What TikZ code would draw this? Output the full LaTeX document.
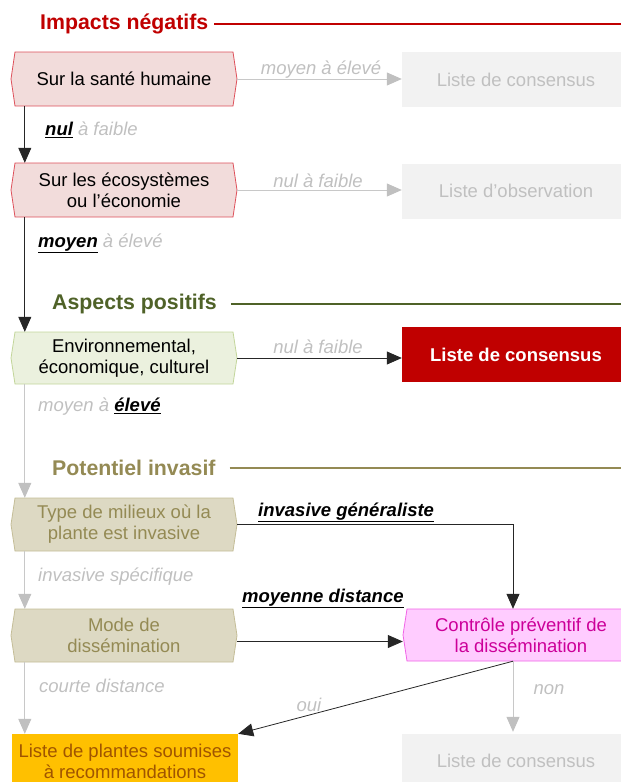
\documentclass[tikz,border=0pt]{standalone}
\usepackage{fontspec}
\setmainfont{Liberation Sans}
\usetikzlibrary{arrows.meta}
\definecolor{negred}{RGB}{192,0,0}
\definecolor{pinkfill}{RGB}{242,220,219}
\definecolor{pinkdraw}{RGB}{222,80,90}
\definecolor{greentitle}{RGB}{79,98,40}
\definecolor{greenfill}{RGB}{235,241,222}
\definecolor{greendraw}{RGB}{195,214,155}
\definecolor{olivetitle}{RGB}{148,138,84}
\definecolor{olivefill}{RGB}{221,217,195}
\definecolor{olivedraw}{RGB}{196,189,151}
\definecolor{magfill}{RGB}{255,204,255}
\definecolor{magdraw}{RGB}{240,100,230}
\definecolor{magtext}{RGB}{204,0,153}
\definecolor{orangefill}{RGB}{255,192,0}
\definecolor{orangetext}{RGB}{160,85,0}
\definecolor{lightgray}{RGB}{192,192,192}
\definecolor{linegray}{RGB}{200,200,200}
\definecolor{boxgray}{RGB}{242,242,242}
\newcommand\hexnode[7]{%
  \path[#6] (#2+4,#3) -- (#4-4,#3) -- (#4,{(#3+#5)/2}) -- (#4-4,#5) -- (#2+4,#5) -- (#2,{(#3+#5)/2}) -- cycle;
  \node[boxtxt, minimum width={#4-#2}, minimum height={#5-#3}] (#1) at ({(#2+#4)/2},{(#3+#5)/2}) {#7};}
\newcommand\bul[1]{\textbf{\textit{\underline{#1}}}}
\begin{document}
\begin{tikzpicture}[x=1pt,y=-1pt,
  every node/.style={font=\fontsize{18.5}{21}\selectfont},
  boxtxt/.style={draw=none, inner sep=0pt, align=center},
  titletxt/.style={font=\fontsize{21.3}{24}\selectfont\bfseries, inner sep=0pt, anchor=mid west},
  lbl/.style={font=\fontsize{18.5}{21}\selectfont\itshape, text=lightgray, inner sep=0pt},
  hexpink/.style={fill=pinkfill, draw=pinkdraw, line width=0.8pt},
  hexgreen/.style={fill=greenfill, draw=greendraw, line width=0.8pt},
  hexolive/.style={fill=olivefill, draw=olivedraw, line width=0.8pt},
  hexmag/.style={fill=magfill, draw=magdraw, line width=0.8pt},
  graybox/.style={rectangle, fill=boxgray, text=lightgray, minimum width=228pt, minimum height=55pt, inner sep=0pt, align=center},
  blkarr/.style={draw=black!85, line width=0.8pt, -{Triangle[length=15pt,width=13pt]}},
  grayarr/.style={draw=linegray, line width=1pt, -{Triangle[length=15pt,width=13pt,color=lightgray]}},
  blkline/.style={draw=black!85, line width=0.8pt}]
\useasboundingbox (0,0) rectangle (621,782);
\clip (0,0) rectangle (621,782);
\coordinate (edge) at (625,0);

% titles
\node[titletxt, text=negred] (t1) at (40,26.5) {Impacts négatifs};
\draw[negred, line width=2pt] ([xshift=6pt]t1.east) -- (t1.east -| edge);
\node[titletxt, text=greentitle] (t2) at (52,306.5) {Aspects positifs};
\draw[greentitle, line width=2pt] ([xshift=14pt]t2.east) -- (t2.east -| edge);
\node[titletxt, text=olivetitle] (t3) at (52,472.5) {Potentiel invasif};
\draw[olivetitle, line width=2pt] ([xshift=14pt]t3.east) -- (t3.east -| edge);

% hex boxes
\hexnode{b1}{11}{52}{237}{106}{hexpink}{Sur la santé humaine}
\hexnode{b2}{11}{163}{237}{217}{hexpink}{Sur les écosystèmes\\ou l’économie}
\hexnode{b3}{11}{332}{237}{384}{hexgreen}{Environnemental,\\économique, culturel}
\hexnode{b4}{11}{498}{237}{551}{hexolive}{\textcolor{olivetitle}{Type de milieux où la}\\\textcolor{olivetitle}{plante est invasive}}
\hexnode{b5}{11}{609}{237}{662}{hexolive}{\textcolor{olivetitle}{Mode de}\\\textcolor{olivetitle}{dissémination}}
\hexnode{b6}{403}{609}{639}{661}{hexmag}{\textcolor{magtext}{Contrôle préventif de}\\\textcolor{magtext}{la dissémination}}

% rectangular boxes
\node[graybox] (g1) at (516,79.5) {Liste de consensus};
\node[graybox] (g2) at (516,191) {Liste d’observation};
\node[graybox, fill=negred, text=white, font=\fontsize{18.5}{21}\selectfont\bfseries] (r1) at (516,354.5) {Liste de consensus};
\node[rectangle, fill=orangefill, text=orangetext, minimum width=226pt, minimum height=54pt, inner sep=0pt, align=center] (o1) at (125,761) {Liste de plantes soumises\\à recommandations};
\node[graybox, minimum height=54pt] (g3) at (516,761) {Liste de consensus};

% helper coordinates
\coordinate (b1s) at ([xshift=14pt]b1.south west);
\coordinate (b2s) at ([xshift=14pt]b2.south west);
\coordinate (b3s) at ([xshift=14pt]b3.south west);
\coordinate (b4s) at ([xshift=14pt]b4.south west);
\coordinate (b5s) at ([xshift=14pt]b5.south west);
\coordinate (b6n) at ([xshift=-8pt]b6.north);
\coordinate (b6s) at ([xshift=-8pt]b6.south);
\coordinate (b5e) at ([yshift=-6pt]b5.east);

% connectors
\draw[grayarr] (b1.east) -- (b1.east -| g1.west);
\draw[blkarr] (b1s) -- (b1s |- b2.north);
\draw[grayarr] (b2.east) -- (b2.east -| g2.west);
\draw[blkarr] (b2s) -- (b2s |- b3.north);
\draw[blkarr] (b3.east) -- (b3.east -| r1.west);
\draw[grayarr] (b3s) -- (b3s |- b4.north);
\draw[blkarr] (b4.east) -| (b6n);
\draw[grayarr] (b4s) -- (b4s |- b5.north);
\draw[blkarr] (b5e) -- (b5e -| b6.west);
\draw[grayarr] (b5s) -- (b5s |- o1.north);
\draw[blkarr] (b6s) -- (o1.north east);
\draw[grayarr] (b6s) -- ([yshift=2pt]b6s |- g3.north);

% labels
\node[lbl] (l1) at (321,69.5) {moyen à élevé};
\node[lbl, anchor=mid west] (l2) at (45,132.5) {\textcolor{black}{\bul{nul}} à faible};
\node[lbl] (l3) at (318,180.5) {nul à faible};
\node[lbl, anchor=mid west] (l4) at (38,244.5) {\textcolor{black}{\bul{moyen}} à élevé};
\node[lbl] (l5) at (318,346.5) {nul à faible};
\node[lbl, anchor=mid west] (l6) at (38,408.5) {moyen à \textcolor{black}{\bul{élevé}}};
\node[lbl, anchor=mid west, text=black] (l7) at (258,513.5) {\bul{invasive généraliste}};
\node[lbl, anchor=mid west] (l8) at (38,578.5) {invasive spécifique};
\node[lbl, anchor=mid west, text=black] (l9) at (242,599.5) {\bul{moyenne distance}};
\node[lbl, anchor=mid west] (l10) at (39,689.5) {courte distance};
\node[lbl] (l11) at (309,704.5) {oui};
\node[lbl] (l12) at (549,689.5) {non};
\end{tikzpicture}
\end{document}
